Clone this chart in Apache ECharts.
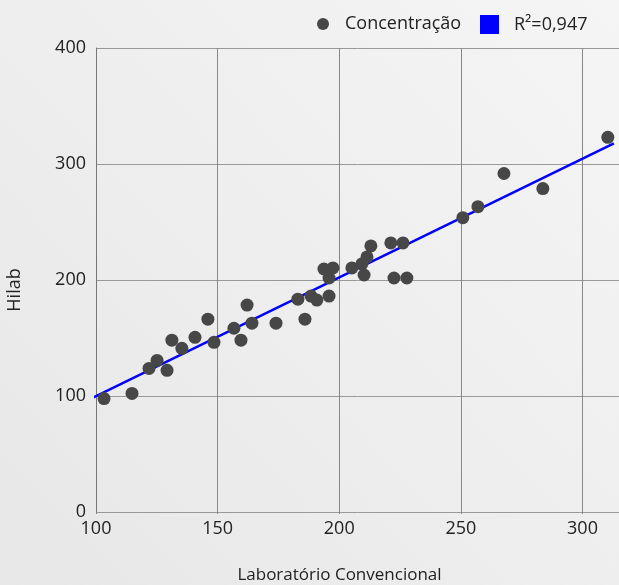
<!DOCTYPE html>
<html>
<head>
<meta charset="utf-8">
<script src="https://cdn.jsdelivr.net/npm/echarts@6/dist/echarts.min.js"></script>
<style>
  html, body { margin: 0; padding: 0; }
  #chart { width: 619px; height: 585px; }
</style>
</head>
<body>
<div id="chart"></div>
<script>
  // Laboratório Convencional (x) vs Hilab (y)
  const labValues = [103.3, 114.8, 121.8, 125.1, 129.2, 131.2, 135.3, 140.7, 146.0, 148.5,
    156.7, 159.6, 162.1, 164.1, 174.0, 183.0, 185.9, 188.4, 190.8, 195.8,
    193.7, 195.8, 197.4, 205.2, 209.3, 210.2, 211.4, 213.0, 221.2, 222.5,
    226.2, 227.8, 250.8, 257.0, 267.7, 283.7, 310.4];
  const hilabValues = [97.8, 102.2, 123.8, 130.7, 122.1, 148.1, 141.1, 150.6, 166.2, 146.3,
    158.4, 148.1, 178.4, 162.8, 162.8, 183.5, 166.2, 186.1, 182.7, 186.1,
    209.5, 201.7, 210.4, 210.4, 213.9, 204.3, 219.9, 229.4, 232.0, 201.7,
    232.0, 201.7, 253.7, 263.2, 291.8, 278.8, 323.0];
  // fitted line endpoints
  const fitX = [97.9, 312.9];
  const fitY = [97.8, 317.8];
  const yTicks = [0, 100, 200, 300, 400];

  const points = labValues.map((v, i) => [v, hilabValues[i]]);
  const fitLine = fitX.map((v, i) => [v, fitY[i]]);

  const font = 'Open Sans';
  let myChart = echarts.init(document.getElementById('chart'));
  let option = {
    backgroundColor: {
      type: 'linear', x: 1, y: 0, x2: 0, y2: 1,
      colorStops: [{offset: 0, color: '#f5f5f5'}, {offset: 1, color: '#e7e7e7'}]
    },
    textStyle: {fontFamily: font},
    animation: false,
    legend: [
      {
        data: [{name: 'Concentração', icon: 'circle'}],
        left: 317, top: 15, padding: 0,
        itemWidth: 12, itemHeight: 12,
        textStyle: {fontFamily: font, fontSize: 18, color: '#222', padding: [0, 0, 0, 11]}
      },
      {
        data: [{name: 'R²=0,947', icon: 'rect'}],
        left: 480, top: 15, padding: 0,
        itemWidth: 19, itemHeight: 19,
        textStyle: {fontFamily: font, fontSize: 18, color: '#222', padding: [0, 0, 0, 10]}
      }
    ],
    grid: {left: 96, top: 48, right: 0, bottom: 73, outerBoundsMode: 'none', containLabel: false},
    xAxis: {
      type: 'value',
      min: 100, max: 315, interval: 50,
      name: 'Laboratório Convencional',
      nameLocation: 'middle', nameGap: 55,
      nameTextStyle: {fontSize: 17, color: '#222', padding: [0, 36, 0, 0]},
      axisLine: {show: false},
      axisTick: {show: true, length: 2, lineStyle: {color: '#888'}},
      axisLabel: {fontSize: 18, color: '#222', margin: 8, showMaxLabel: false},
      splitLine: {show: true, lineStyle: {color: '#888', width: 1}}
    },
    yAxis: {
      type: 'value',
      min: yTicks[0], max: yTicks[yTicks.length - 1], interval: 100,
      name: 'Hilab',
      nameLocation: 'middle', nameGap: 72,
      nameTextStyle: {fontSize: 18, color: '#222', padding: [0, 20, 0, 0]},
      axisLine: {show: true, lineStyle: {color: '#777'}},
      axisTick: {show: false},
      axisLabel: {fontSize: 18, color: '#222', margin: 10},
      splitLine: {show: true, lineStyle: {color: '#999', width: 1}}
    },
    series: [
      {
        name: 'Concentração',
        type: 'scatter',
        data: points,
        symbol: 'circle',
        symbolSize: 13,
        itemStyle: {color: '#474747', opacity: 1},
        clip: false,
        z: 3
      },
      {
        name: 'R²=0,947',
        type: 'line',
        data: fitLine,
        showSymbol: false,
        symbol: 'none',
        clip: false,
        lineStyle: {color: '#0000ff', width: 2.5},
        itemStyle: {color: '#0000ff'},
        z: 2
      }
    ]
  };
  myChart.setOption(option);
</script>
</body>
</html>
